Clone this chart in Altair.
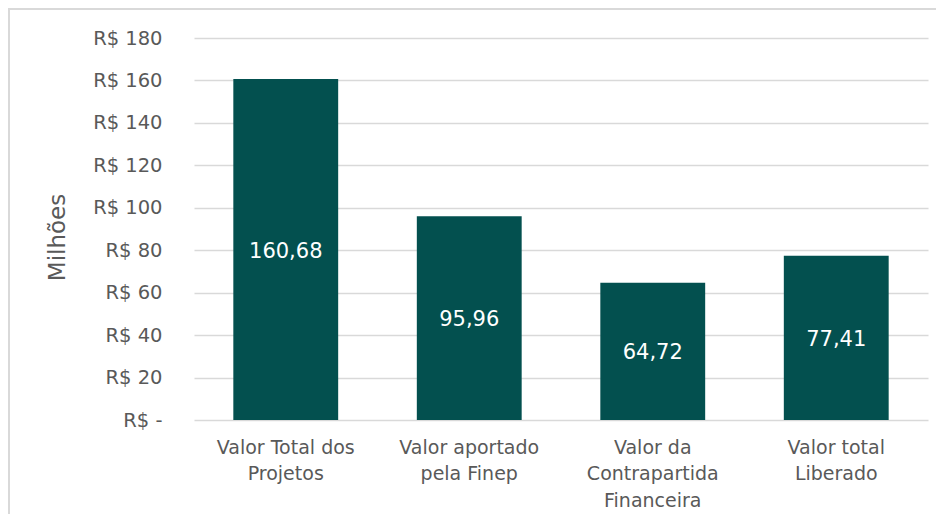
import altair as alt
import pandas as pd

categories = ["Valor Total dos\nProjetos", "Valor aportado\npela Finep", "Valor da\nContrapartida\nFinanceira", "Valor total\nLiberado"]
values = [160.68, 95.96, 64.72, 77.41]
value_labels = ["160,68", "95,96", "64,72", "77,41"]
y_ticks = [0, 20, 40, 60, 80, 100, 120, 140, 160, 180]

df = pd.DataFrame({"cat": categories, "val": values, "lab": value_labels})

FONT = "DejaVu Sans"
GREY = "#595959"

x = alt.X("cat:N", sort=categories, title=None,
          scale=alt.Scale(paddingInner=0.4286, paddingOuter=0.2143),
          axis=alt.Axis(labelAngle=0, labelExpr="split(datum.label, '\\n')",
                        labelLineHeight=26.5, labelFontSize=19, labelColor=GREY,
                        labelFont=FONT, labelPadding=18, domain=False, ticks=False,
                        labelBaseline="top"))

bars = alt.Chart(df).mark_bar(color="#03504F").encode(
    x=x,
    y=alt.Y("val:Q", title="Milhões", scale=alt.Scale(domain=[0, 180]),
            axis=alt.Axis(values=y_ticks,
                          labelExpr="datum.value == 0 ? 'R$ -' : 'R$ ' + datum.value",
                          labelFontSize=19.5, labelColor=GREY, labelFont=FONT,
                          labelPadding=32, domain=False, ticks=False,
                          gridColor="#d9d9d9", gridWidth=1.5,
                          titleFont=FONT, titleFontSize=23, titleFontWeight="normal",
                          titleColor=GREY, titleAngle=270, titleX=-137, titleY=199,
                          titleAlign="center", titleBaseline="middle")),
)

text = alt.Chart(df).transform_calculate(mid="datum.val / 2").mark_text(
    color="white", fontSize=21, font=FONT, baseline="middle", dy=2
).encode(
    x=alt.X("cat:N", sort=categories),
    y=alt.Y("mid:Q"),
    text="lab:N",
)

frame_left = alt.Chart(df).mark_rule(color="#d9d9d9", strokeWidth=2).encode(
    x=alt.value(-185), x2=alt.value(-185), y=alt.value(-30), y2=alt.value(480)
)
frame_top = alt.Chart(df).mark_rule(color="#d9d9d9", strokeWidth=2).encode(
    x=alt.value(-185), x2=alt.value(760), y=alt.value(-29), y2=alt.value(-29)
)

chart = alt.layer(bars, text, frame_left, frame_top).properties(
    width=734, height=382,
    autosize=alt.AutoSizeParams(type="none"),
    padding={"left": 186, "top": 30, "right": 8, "bottom": 94},
).configure_view(stroke=None)

chart.save("out.html", embed_options={"renderer": "svg", "actions": False})
